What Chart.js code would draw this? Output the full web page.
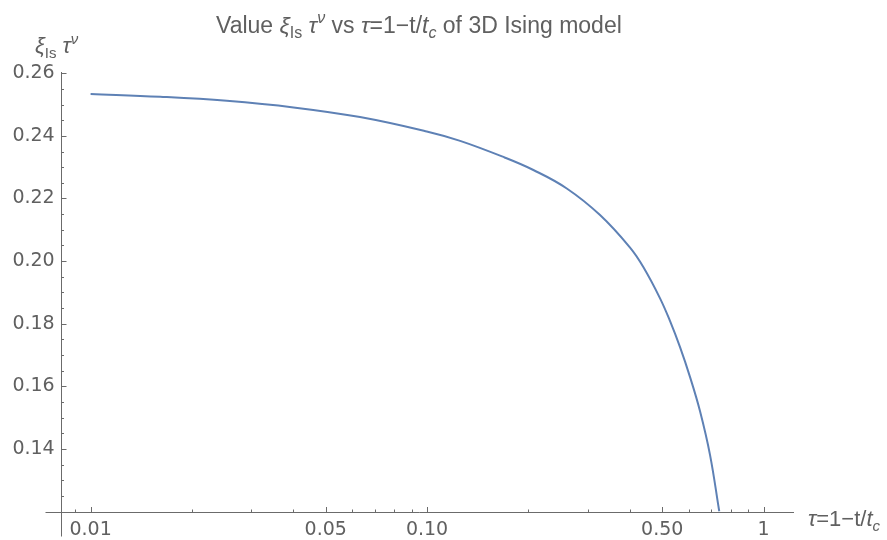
<!DOCTYPE html>
<html>
<head>
<meta charset="utf-8">
<script src="https://cdn.jsdelivr.net/npm/chart.js@4.4.1/dist/chart.umd.min.js"></script>
<style>
  html, body { margin: 0; padding: 0; background: #fff; }
  #wrap { width: 887px; height: 540px; }
</style>
</head>
<body>
<div id="wrap"><canvas id="c" width="887" height="540"></canvas></div>
<script>
// values
const tau = [0.01, 0.0161, 0.0254, 0.0401, 0.0632, 0.0998, 0.1254, 0.1700, 0.207, 0.2602, 0.3267, 0.4012, 0.4393, 0.4926, 0.5276, 0.5648, 0.6046, 0.6474, 0.6934, 0.7388];
const amplitude = [0.2534, 0.2525, 0.2512, 0.2491, 0.2460, 0.2414, 0.2384, 0.2331, 0.2291, 0.2232, 0.2147, 0.2043, 0.1981, 0.1881, 0.1808, 0.1725, 0.1630, 0.1521, 0.1381, 0.1200];

// ticks
const xMajorTicks = [0.01, 0.05, 0.1, 0.5, 1];
const xTickLabels = ['0.01', '0.05', '0.10', '0.50', '1'];
const xMinorTicks = [0.009, 0.02, 0.03, 0.04, 0.06, 0.07, 0.08, 0.09, 0.2, 0.3, 0.4, 0.6, 0.7, 0.8, 0.9];
const yMajorTicks = [0.14, 0.16, 0.18, 0.20, 0.22, 0.24, 0.26];
const yTickLabels = ['0.14', '0.16', '0.18', '0.20', '0.22', '0.24', '0.26'];

const AXIS_COLOR = '#6b6b6b';
const TEXT_COLOR = '#606060';
const LINE_COLOR = '#5e81b5';
const TEXT_FONT = '"Liberation Sans", Arial, sans-serif';
const TICK_FONT = { family: '"DejaVu Sans", sans-serif', size: 19 };

// rich text: [text, style]  style: '' | 'i' | 'sub' | 'isub' | 'isup'
const titleParts = [
  ['Value ', ''], ['ξ', 'i'], ['Is', 'sub'], [' ', ''], ['τ', 'i'], ['ν', 'isup'],
  [' vs ', ''], ['τ', 'i'], ['=1−t/', ''], ['t', 'i'], ['c', 'isub'], [' of 3D Ising model', '']
];
const yLabelParts = [['ξ', 'i'], ['Is', 'sub'], [' ', ''], ['τ', 'i'], ['ν', 'isup']];
const xLabelParts = [['τ', 'i'], ['=1−t/', ''], ['t', 'i'], ['c', 'isub']];

function partFont(style, size) {
  const small = style.indexOf('sub') >= 0 || style.indexOf('sup') >= 0;
  const italic = style.indexOf('i') === 0 ? 'italic ' : '';
  return italic + (small ? Math.round(size * 0.68) : size) + 'px ' + TEXT_FONT;
}

function drawRich(ctx, parts, x, y, size) {
  ctx.save();
  ctx.fillStyle = TEXT_COLOR;
  ctx.textBaseline = 'alphabetic';
  ctx.textAlign = 'left';
  let cx = x;
  parts.forEach(([txt, style]) => {
    ctx.font = partFont(style, size);
    let dy = 0;
    if (style.indexOf('sub') >= 0) dy = size * 0.22;
    if (style.indexOf('sup') >= 0) dy = -size * 0.42;
    ctx.fillText(txt, cx, y + dy);
    cx += ctx.measureText(txt).width;
  });
  ctx.restore();
}

const mathAxes = {
  id: 'mathAxes',
  afterDraw(chart) {
    const ctx = chart.ctx;
    const xs = chart.scales.x;
    const ys = chart.scales.y;
    const ox = Math.round(xs.left) + 0.5;
    const oy = Math.round(ys.bottom) + 0.5;
    ctx.save();
    ctx.strokeStyle = AXIS_COLOR;
    ctx.lineWidth = 1;
    ctx.beginPath();
    // axis lines, running a little past the crossing point
    ctx.moveTo(ox, Math.round(ys.top));
    ctx.lineTo(ox, oy + 24);
    ctx.moveTo(ox - 16, oy);
    ctx.lineTo(Math.round(xs.right), oy);
    // x ticks (pointing up)
    xMajorTicks.forEach(v => {
      const px = Math.round(xs.getPixelForValue(v)) + 0.5;
      ctx.moveTo(px, oy); ctx.lineTo(px, oy - 5.5);
    });
    xMinorTicks.forEach(v => {
      const px = Math.round(xs.getPixelForValue(v)) + 0.5;
      ctx.moveTo(px, oy); ctx.lineTo(px, oy - 3);
    });
    // y ticks (pointing right)
    yMajorTicks.forEach(v => {
      const py = Math.round(ys.getPixelForValue(v)) + 0.5;
      ctx.moveTo(ox, py); ctx.lineTo(ox + 5, py);
    });
    for (let v = 0.125; v < 0.2605; v += 0.005) {
      const py = Math.round(ys.getPixelForValue(v)) + 0.5;
      ctx.moveTo(ox, py); ctx.lineTo(ox + 2.5, py);
    }
    ctx.stroke();
    ctx.restore();

    drawRich(ctx, titleParts, 216, 32.5, 23);
    drawRich(ctx, yLabelParts, 35, 53, 22);
    drawRich(ctx, xLabelParts, 808, 526, 22);
  }
};

new Chart(document.getElementById('c'), {
  type: 'line',
  data: {
    datasets: [{
      data: tau.map((t, i) => ({ x: t, y: amplitude[i] })),
      borderColor: LINE_COLOR,
      borderWidth: 2,
      pointRadius: 0,
      fill: false,
      tension: 0.4
    }]
  },
  options: {
    responsive: false,
    animation: false,
    devicePixelRatio: 1,
    layout: { padding: { top: 71.7, right: 93, left: 0, bottom: 0 } },
    plugins: { legend: { display: false }, title: { display: false }, tooltip: { enabled: false } },
    scales: {
      x: {
        type: 'logarithmic',
        min: 0.00815,
        max: 1.232,
        grid: { display: false, drawTicks: false },
        border: { display: false },
        afterBuildTicks: s => { s.ticks = xMajorTicks.map(v => ({ value: v })); },
        afterFit: s => { s.height = 28.5; },
        ticks: {
          autoSkip: false,
          maxRotation: 0,
          padding: 7,
          color: TEXT_COLOR,
          font: TICK_FONT,
          callback: (v, i) => xTickLabels[i]
        }
      },
      y: {
        min: 0.12,
        max: 0.2605,
        grid: { display: false, drawTicks: false },
        border: { display: false },
        afterBuildTicks: s => { s.ticks = yMajorTicks.map(v => ({ value: v })); },
        afterFit: s => { s.width = 60.7; },
        ticks: {
          autoSkip: false,
          padding: 6,
          color: TEXT_COLOR,
          font: TICK_FONT,
          callback: (v, i) => yTickLabels[i]
        }
      }
    }
  },
  plugins: [mathAxes]
});
</script>
</body>
</html>
